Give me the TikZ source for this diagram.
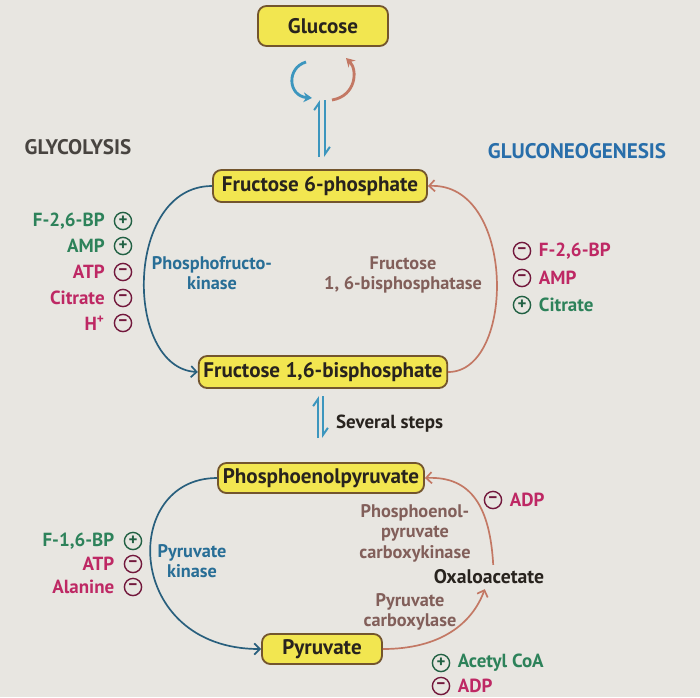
\documentclass[tikz,border=0pt]{standalone}
\usepackage{fontspec}
\setmainfont{PT Sans}
\definecolor{bgcol}{RGB}{232, 230, 225}
\definecolor{boxfill}{RGB}{242, 230, 80}
\definecolor{boxedge}{RGB}{115, 85, 45}
\definecolor{inkdark}{RGB}{40, 35, 30}
\definecolor{glyblue}{RGB}{40, 95, 125}
\definecolor{glytext}{RGB}{40, 110, 150}
\definecolor{gngred}{RGB}{195, 120, 100}
\definecolor{gngtext}{RGB}{130, 95, 90}
\definecolor{actgreen}{RGB}{45, 130, 90}
\definecolor{inhmag}{RGB}{190, 40, 100}
\definecolor{harpblue}{RGB}{60, 150, 190}
\definecolor{titleblue}{RGB}{40, 110, 170}
\usepackage{tikz}
\usetikzlibrary{arrows.meta, positioning}

\tikzset{
  metab/.style={draw=boxedge, fill=boxfill, rounded corners=6pt, line width=1.3pt, font=\fontsize{15}{17}\selectfont\bfseries, text=inkdark, minimum height=0.8cm},
  enz/.style={align=center, font=\fontsize{13}{14.5}\selectfont\bfseries},
  reglab/.style={font=\fontsize{13.5}{15}\selectfont\bfseries},
  actc/.style={circle, draw=actgreen!75!black, line width=1pt, inner sep=0pt, minimum size=0.43cm, font=\fontsize{12}{12}\selectfont\bfseries, text=actgreen!75!black},
  inhc/.style={circle, draw=inhmag!60!black, line width=1pt, inner sep=0pt, minimum size=0.43cm, font=\fontsize{12}{12}\selectfont\bfseries, text=inhmag!60!black},
  glyarr/.style={-{Straight Barb[length=4pt, width=8pt]}, line width=1.2pt, glyblue},
  gngarr/.style={-{Straight Barb[length=4pt, width=8pt]}, line width=1.2pt, gngred},
  harp/.style={-{Straight Barb[left, length=5pt, width=7pt]}, line width=1.4pt, harpblue}
}

\begin{document}
\begin{tikzpicture}
  % Background
  \fill[bgcol] (0, 0) rectangle (17.5, -17.425);
  \useasboundingbox (0, 0) rectangle (17.5, -17.425);

  % Metabolites
  \node[metab, minimum width=3.25cm, minimum height=1cm] (glc) at (8.075, -0.65) {Glucose};
  \node[metab, minimum width=5.35cm] (f6p) at (8.0, -4.65) {Fructose 6-phosphate};
  \node[metab, minimum width=6.15cm] (fbp) at (8.075, -9.3) {Fructose 1,6-bisphosphate};
  \node[metab, minimum width=5.15cm, minimum height=0.75cm] (pep) at (8.025, -11.95) {Phosphoenolpyruvate};
  \node[metab, minimum width=3cm, minimum height=0.75cm] (pyr) at (8.05, -16.225) {Pyruvate};
  \node[reglab, font=\fontsize{14}{16}\selectfont\bfseries, text=inkdark] (oaa) at (12.225, -14.425) {Oxaloacetate};

  % Titles
  \node[font=\fontsize{15}{17}\selectfont\bfseries, text=inkdark!85] (glyt) at (1.95, -3.675) {GLYCOLYSIS};
  \node[font=\fontsize{15}{17}\selectfont\bfseries, text=titleblue] (gngt) at (14.425, -3.775) {GLUCONEOGENESIS};

  % Glucose cycle and equilibrium
  \coordinate (cb1) at (7.65, -1.55);
  \coordinate (cb2) at (7.8, -2.45);
  \coordinate (cr1) at (8.3, -2.5);
  \coordinate (cr2) at (8.65, -1.45);
  \draw[-{Stealth[length=6pt, width=7pt]}, line width=2pt, harpblue] (cb1) .. controls (7.15, -1.7) and (7.2, -2.4) .. (cb2);
  \draw[-{Stealth[length=6pt, width=7pt]}, line width=2pt, gngred] (cr1) .. controls (8.9, -2.4) and (8.95, -1.75) .. (cr2);
  \coordinate (hu1) at (7.975, -3.925);
  \coordinate (hu2) at (7.975, -2.5);
  \coordinate (hd1) at (8.125, -2.5);
  \coordinate (hd2) at (8.125, -3.925);
  \draw[harp] (hu1) -- (hu2);
  \draw[harp] (hd1) -- (hd2);

  % PFK / FBPase cycle
  \draw[glyarr] (f6p.west) .. controls (3.1, -4.65) and (3.1, -9.2) .. (fbp.west);
  \draw[gngarr] (fbp.east) .. controls (12.9, -9.3) and (12.9, -4.55) .. (f6p.east);
  \node[enz, text=glytext] (pfk) at (5.3, -6.825) {Phosphofructo-\\kinase};
  \node[enz, text=gngtext] (fbpase) at (10.075, -6.875) {Fructose\\1, 6-bisphosphatase};

  % PFK regulators
  \node[reglab, text=actgreen, anchor=east] (pfkr1) at (2.74, -5.525) {F-2,6-BP};
  \node[actc] (pfkc1) at (3.075, -5.525) {+};
  \node[reglab, text=actgreen, anchor=east] (pfkr2) at (2.74, -6.15) {AMP};
  \node[actc] (pfkc2) at (3.075, -6.15) {+};
  \node[reglab, text=inhmag, anchor=east] (pfkr3) at (2.74, -6.8) {ATP};
  \node[inhc] (pfkc3) at (3.075, -6.8) {–};
  \node[reglab, text=inhmag, anchor=east] (pfkr4) at (2.74, -7.45) {Citrate};
  \node[inhc] (pfkc4) at (3.075, -7.45) {–};
  \node[reglab, text=inhmag, anchor=east] (pfkr5) at (2.74, -8.075) {H\textsuperscript{+}};
  \node[inhc] (pfkc5) at (3.075, -8.075) {–};

  % FBPase regulators
  \node[inhc] (fbpc1) at (13.05, -6.275) {–};
  \node[reglab, text=inhmag, anchor=west] (fbpr1) at (13.35, -6.275) {F-2,6-BP};
  \node[inhc] (fbpc2) at (13.05, -6.95) {–};
  \node[reglab, text=inhmag, anchor=west] (fbpr2) at (13.35, -6.95) {AMP};
  \node[actc] (fbpc3) at (13.05, -7.625) {+};
  \node[reglab, text=actgreen, anchor=west] (fbpr3) at (13.35, -7.625) {Citrate};

  % Several steps
  \coordinate (su1) at (7.95, -10.95);
  \coordinate (su2) at (7.95, -9.9);
  \coordinate (sd1) at (8.075, -9.9);
  \coordinate (sd2) at (8.075, -10.95);
  \draw[harp] (su1) -- (su2);
  \draw[harp] (sd1) -- (sd2);
  \node[reglab, text=inkdark, anchor=west] (steps) at (8.28, -10.6) {Several steps};

  % Pyruvate kinase / bypass
  \draw[glyarr] (pep.west) .. controls (3.0, -11.95) and (3.1, -16.225) .. (pyr.west);
  \draw[gngarr] (pyr.east) .. controls (11.0, -16.225) and (11.8, -15.6) .. ([xshift=-3pt]oaa.south);
  \draw[gngarr] ([xshift=3pt]oaa.north) .. controls (12.25, -12.7) and (11.8, -11.9) .. (pep.east);
  \node[enz, text=glytext] (pk) at (4.8, -14.025) {Pyruvate\\kinase};
  \node[enz, text=gngtext] (pepck) at (10.375, -13.325) {Phosphoenol-\\pyruvate\\carboxykinase};
  \node[enz, text=gngtext] (pc) at (10.25, -15.3) {Pyruvate\\carboxylase};

  % PK regulators
  \node[reglab, text=actgreen, anchor=east] (pkr1) at (2.98, -13.525) {F-1,6-BP};
  \node[actc] (pkc1) at (3.325, -13.525) {+};
  \node[reglab, text=inhmag, anchor=east] (pkr2) at (2.98, -14.1) {ATP};
  \node[inhc] (pkc2) at (3.325, -14.1) {–};
  \node[reglab, text=inhmag, anchor=east] (pkr3) at (2.98, -14.675) {Alanine};
  \node[inhc] (pkc3) at (3.325, -14.675) {–};

  % PEPCK and PC regulators
  \node[inhc] (pepckc) at (12.325, -12.5) {–};
  \node[reglab, text=inhmag, anchor=west] (pepckr) at (12.62, -12.5) {ADP};
  \node[actc] (pcc1) at (11.025, -16.575) {+};
  \node[reglab, text=actgreen, anchor=west] (pcr1) at (11.32, -16.575) {Acetyl CoA};
  \node[inhc] (pcc2) at (11.025, -17.15) {–};
  \node[reglab, text=inhmag, anchor=west] (pcr2) at (11.32, -17.15) {ADP};
\end{tikzpicture}
\end{document}
